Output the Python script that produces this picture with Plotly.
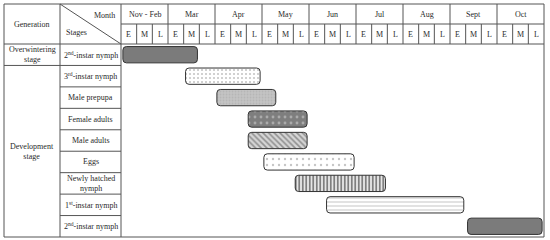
import plotly.graph_objects as go

# ---------------- data ----------------
months = ["Nov - Feb", "Mar", "Apr", "May", "Jun", "Jul", "Aug", "Sept", "Oct"]
thirds = ["E", "M", "L"]
generations = ["Overwintering<br>stage", "Development<br>stage"]
generation_rows = [1, 8]  # number of stage rows in each generation
stages = ["2<sup>nd</sup>-instar nymph", "3<sup>rd</sup>-instar nymph", "Male prepupa",
          "Female adults", "Male adults", "Eggs", "Newly hatched<br>nymph",
          "1<sup>st</sup>-instar nymph", "2<sup>nd</sup>-instar nymph"]
start_month = ["Nov - Feb", "Mar", "Apr", "Apr", "Apr", "May", "May", "Jun", "Sept"]
start_third = ["E", "M", "E", "L", "L", "E", "L", "M", "M"]
end_month = ["Mar", "Apr", "May", "May", "May", "Jun", "Jul", "Sept", "Oct"]
end_third = ["M", "L", "E", "L", "L", "L", "M", "E", "L"]

# ---------------- styles ----------------
styles = [
    dict(shape="", bg="#7b7b7b", fg="#6c6c6c", size=3, sol=0.3),
    dict(shape=".", bg="#ffffff", fg="#8c8c8c", size=4, sol=0.22),
    dict(shape=".", bg="#c4c4c4", fg="#a8a8a8", size=3, sol=0.3),
    dict(shape=".", bg="#7e7e7e", fg="#d8d8d8", size=6, sol=0.18),
    dict(shape="\\", bg="#d6d6d6", fg="#4a4a4a", size=4, sol=0.4),
    dict(shape=".", bg="#ffffff", fg="#8c8c8c", size=6, sol=0.12),
    dict(shape="|", bg="#ffffff", fg="#000000", size=3.5, sol=0.6),
    dict(shape="-", bg="#ffffff", fg="#8a8a8a", size=4, sol=0.25),
    dict(shape="", bg="#7b7b7b", fg="#6c6c6c", size=3, sol=0.3),
]

FONT = "Liberation Serif, Times New Roman, serif"
FS = 8
TXT = "#2a2a2a"
LINE = "#555555"

# pixel geometry of the table
W_PX, H_PX = 550, 240
LEFT, RIGHT, TOP, BOTTOM = 4, 544, 4, 237
STAGE_L, CHART_L = 60, 121
HEAD_MID, BODY_T = 24, 44
nrows = len(stages)
ncols = len(months) * len(thirds)
CW = (RIGHT - CHART_L) / ncols
RH = (BOTTOM - BODY_T) / nrows

def px_x(p):
    return (p - CHART_L) / CW

def px_y(p):
    return -0.5 + (p - BODY_T) / RH

def period_index(m, t):
    return months.index(m) * len(thirds) + thirds.index(t)

starts = [period_index(m, t) for m, t in zip(start_month, start_third)]
ends = [period_index(m, t) + 1 for m, t in zip(end_month, end_third)]
inset = 0.12

fig = go.Figure()
for i, (s, e, st) in enumerate(zip(starts, ends, styles)):
    fig.add_trace(go.Bar(
        y=[i],
        x=[e - s - 2 * inset],
        base=[s + inset],
        orientation="h",
        width=0.76,
        marker=dict(
            color=st["bg"],
            pattern=dict(shape=st["shape"], fgcolor=st["fg"], size=st["size"],
                         solidity=st["sol"], fillmode="overlay"),
            line=dict(color="#333333", width=1),
            cornerradius=4,
        ),
        hoverinfo="skip",
        showlegend=False,
    ))

shapes = []
def line(x0, y0, x1, y1, w=1, c=LINE):
    shapes.append(dict(type="line", xref="x", yref="y", x0=x0, y0=y0, x1=x1, y1=y1,
                       line=dict(color=c, width=w), layer="above"))

xL, xS, xC, xR = px_x(LEFT), px_x(STAGE_L), 0, ncols
yT, yM, yB, yBot = px_y(TOP), px_y(HEAD_MID), -0.5, nrows - 0.5

shapes.append(dict(type="rect", xref="x", yref="y", x0=xL, x1=xR, y0=yT, y1=yBot,
                   line=dict(color=LINE, width=1), layer="above"))
line(xS, yT, xS, yBot)
line(xC, yT, xC, yBot)
line(xL, yB, xR, yB)
line(xC, yM, xR, yM)
line(xS, yT, xC, yB)
for k in range(1, ncols):
    if k % 3 == 0:
        line(k, yT, k, yB)
    else:
        line(k, yM, k, yB)
for i in range(nrows - 1):
    line(xS, i + 0.5, xC, i + 0.5)
acc = 0
for n in generation_rows[:-1]:
    acc += n
    line(xL, acc - 0.5, xS, acc - 0.5)

ann = []
def text(x, y, s, xanchor="center"):
    ann.append(dict(x=x, y=y, xref="x", yref="y", text=s, showarrow=False,
                    xanchor=xanchor, yanchor="middle",
                    font=dict(family=FONT, size=FS, color=TXT)))

text((xL + xS) / 2, (yT + yB) / 2, "Generation")
text(px_x(117), px_y(15), "Month", xanchor="right")
text(px_x(64), px_y(32), "Stages", xanchor="left")
for j, m in enumerate(months):
    text(j * 3 + 1.5, (yT + yM) / 2, m)
    for t, th in enumerate(thirds):
        text(j * 3 + t + 0.5, (yM + yB) / 2, th)
for i, s in enumerate(stages):
    text((xS + xC) / 2, i, s)
acc = 0
for g, n in zip(generations, generation_rows):
    text((xL + xS) / 2, acc + (n - 1) / 2, g)
    acc += n

fig.update_layout(
    width=W_PX, height=H_PX,
    margin=dict(l=0, r=0, t=0, b=0),
    paper_bgcolor="white", plot_bgcolor="white",
    xaxis=dict(range=[px_x(0), px_x(W_PX)], visible=False, fixedrange=True),
    yaxis=dict(range=[px_y(H_PX), px_y(0)], visible=False, fixedrange=True),
    shapes=shapes, annotations=ann,
    bargap=0, barmode="overlay",
)

fig.write_html("out.html", config={"staticPlot": True},
               post_script="document.body.style.margin='0px';document.body.style.overflow='hidden';")
